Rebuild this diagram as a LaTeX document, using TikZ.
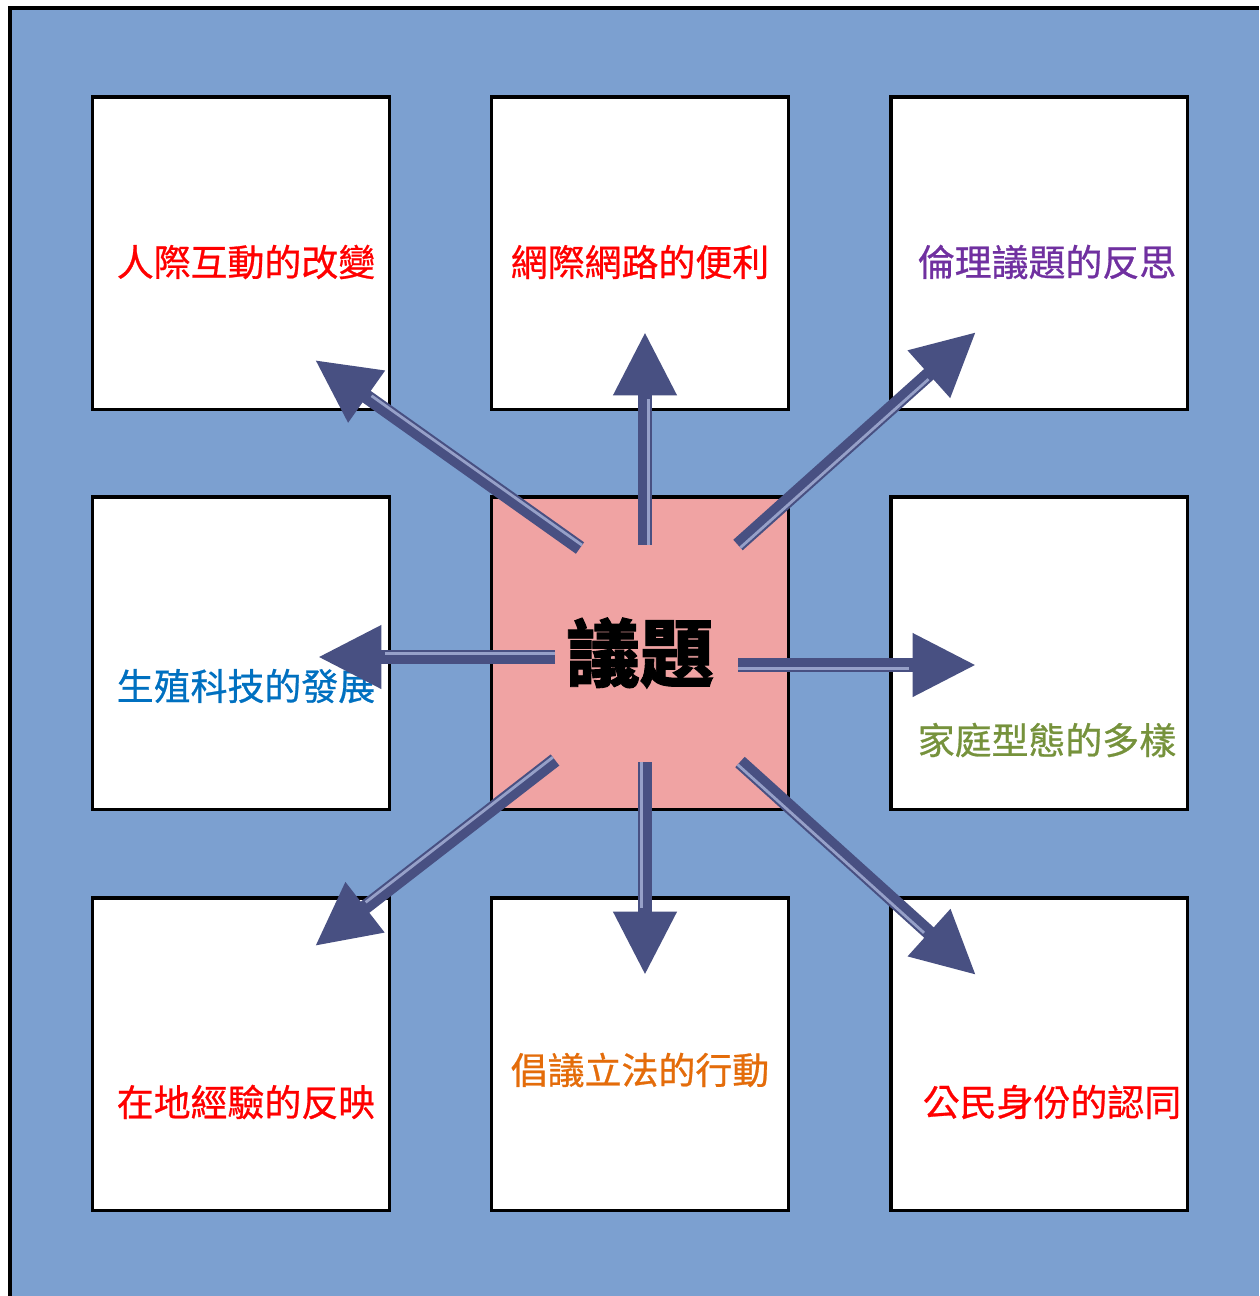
\documentclass[tikz,border=0pt]{standalone}
\usepackage{fontspec}
\newfontfamily\cjk[FakeBold=1.2]{Noto Sans CJK TC}
\newfontfamily\cjklbl[FakeBold=0.7]{Noto Sans CJK TC}
\usetikzlibrary{arrows.meta,calc}
\definecolor{bgblue}{RGB}{124,160,208}
\definecolor{issuepink}{RGB}{240,163,163}
\definecolor{arrowblue}{RGB}{72,80,130}
\definecolor{stripeblue}{RGB}{150,160,200}
\definecolor{lblpurple}{RGB}{112,48,160}
\definecolor{lblblue}{RGB}{0,112,192}
\definecolor{lblgreen}{RGB}{118,146,60}
\definecolor{lblorange}{RGB}{228,108,10}

\begin{document}
\begin{tikzpicture}[x=0.01cm,y=-0.01cm,
  card/.style={draw=black,line width=0.9pt,fill=white,inner sep=0pt,
    minimum width=2.96cm,minimum height=3.12cm},
  lbl/.style={font=\cjklbl\fontsize{10.5}{12}\selectfont},
  shaft/.style={draw=arrowblue,line width=4pt,-{Triangle[length=18pt,width=17pt]}},
  stripe/.style={draw=stripeblue,line width=0.8pt,shorten >=19pt}]
\useasboundingbox (0,0) rectangle (1259,1296);
\fill[bgblue] (10,8) rectangle (1259,1296);
\draw[line width=1.2pt] (10,1296) -- (10,8) -- (1259,8);

\node[card] (cardnw) at (241,253) {};
\node[card] (cardn) at (640,253) {};
\node[card] (cardne) at (1039,253) {};
\node[card] (cardw) at (241,653) {};
\node[card,fill=issuepink,font=\cjk\bfseries\fontsize{21}{24}\selectfont] (issue) at (640,653) {議題};
\node[card] (carde) at (1039,653) {};
\node[card] (cardsw) at (241,1054) {};
\node[card] (cards) at (640,1054) {};
\node[card] (cardse) at (1039,1054) {};

\node[lbl,text=red] (lblnw) at (246,262) {人際互動的改變};
\node[lbl,text=red] (lbln) at (640,262) {網際網路的便利};
\node[lbl,text=lblpurple] (lblne) at (1047,262) {倫理議題的反思};
\node[lbl,text=lblblue] (lblw) at (246,686) {生殖科技的發展};
\node[lbl,text=lblgreen] (lble) at (1047,740) {家庭型態的多樣};
\node[lbl,text=red] (lblsw) at (246,1102) {在地經驗的反映};
\node[lbl,text=lblorange] (lbls) at (640,1070) {倡議立法的行動};
\node[lbl,text=red] (lblse) at (1052,1102) {公民身份的認同};

\coordinate (tnw) at (580,548); \coordinate (hnw) at (315,360);
\coordinate (tn) at (645,545);  \coordinate (hn) at (645,332);
\coordinate (tne) at (738,545); \coordinate (hne) at (976,332);
\coordinate (tw) at (555,657);  \coordinate (hw) at (318,657);
\coordinate (te) at (738,665);  \coordinate (he) at (976,665);
\coordinate (tsw) at (555,760); \coordinate (hsw) at (315,946);
\coordinate (ts) at (645,762);  \coordinate (hs) at (645,975);
\coordinate (tse) at (740,762); \coordinate (hse) at (976,975);

\foreach \d in {nw,n,ne,w,e,sw,s,se}{
  \draw[shaft] (t\d) -- (h\d);
  \draw[stripe] ($(t\d)!1pt!-90:(h\d)$) -- ($(h\d)!1pt!90:(t\d)$);
}
\end{tikzpicture}
\end{document}
